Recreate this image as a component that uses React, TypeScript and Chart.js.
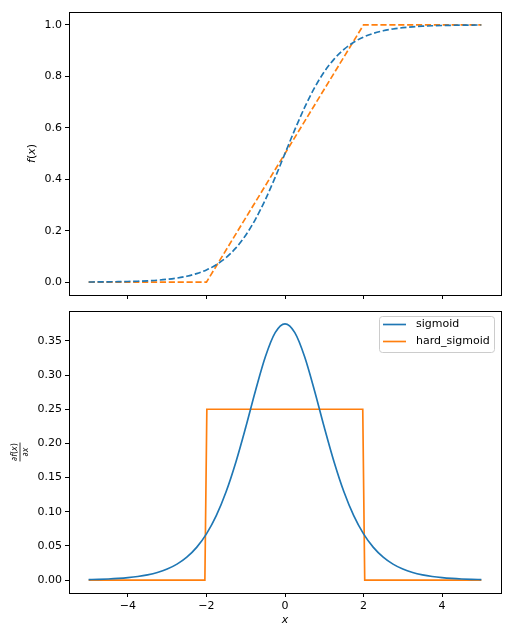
import React, { useEffect, useRef } from "react";
import { Chart, registerables } from "chart.js";

Chart.register(...registerables);

// Sample grid for the smooth curves
const xGrid = [
  -5, -4.75, -4.5, -4.25, -4, -3.75, -3.5, -3.25, -3, -2.75, -2.5, -2.25, -2, -1.75, -1.5, -1.25, -1, -0.75, -0.5, -0.25,
  0, 0.25, 0.5, 0.75, 1, 1.25, 1.5, 1.75, 2, 2.25, 2.5, 2.75, 3, 3.25, 3.5, 3.75, 4, 4.25, 4.5, 4.75, 5,
];

// f(x) for the smooth sigmoid
const sigmoidValues = [
  0.00055, 0.0008, 0.00117, 0.0017, 0.00247, 0.00359, 0.00522, 0.00757, 0.011, 0.0159, 0.023, 0.0331, 0.0474, 0.0675,
  0.0953, 0.133, 0.1824, 0.2451, 0.3208, 0.4073, 0.5, 0.5927, 0.6792, 0.7549, 0.8176, 0.867, 0.9047, 0.9325, 0.9526,
  0.9669, 0.977, 0.9841, 0.989, 0.99243, 0.99478, 0.99641, 0.99753, 0.9983, 0.99883, 0.9992, 0.99945,
];

// df/dx for the smooth sigmoid
const sigmoidGradValues = [
  0.00083, 0.0012, 0.00175, 0.00255, 0.0037, 0.00537, 0.00779, 0.01127, 0.0163, 0.0235, 0.0337, 0.048, 0.0678, 0.0945,
  0.1294, 0.173, 0.2237, 0.2775, 0.3268, 0.3621, 0.375, 0.3621, 0.3268, 0.2775, 0.2237, 0.173, 0.1294, 0.0945, 0.0678,
  0.048, 0.0337, 0.0235, 0.0163, 0.01127, 0.00779, 0.00537, 0.0037, 0.00255, 0.00175, 0.0012, 0.00083,
];

// Piecewise-linear hard sigmoid and its derivative
const hardX = [-5, -2, 2, 5];
const hardValues = [0, 0, 1, 1];
const hardGradX = [-5, -2.04, -1.99, 1.98, 2.03, 5];
const hardGradValues = [0, 0, 0.25, 0.25, 0, 0];

const seriesLabels = ["sigmoid", "hard_sigmoid"];
const seriesColors = ["#1f77b4", "#ff7f0e"];

const xTicks = [-4, -2, 0, 2, 4];
const topYTicks = [0, 0.2, 0.4, 0.6, 0.8, 1.0];
const bottomYTicks = [0, 0.05, 0.1, 0.15, 0.2, 0.25, 0.3, 0.35];

const FONT = "DejaVu Sans";
const LINE_W = 1.67;

const zip = (xs: number[], ys: number[]) => xs.map((x, i) => ({ x, y: ys[i] }));
const minus = (s: string) => s.replace("-", "\u2212");

function drawPieces(ctx: CanvasRenderingContext2D, pieces: [string, boolean][], size: number, cx: number, cy: number) {
  const fonts = pieces.map(([, it]) => `${it ? "italic " : ""}${size}px "${FONT}"`);
  let total = 0;
  const widths = pieces.map(([t], i) => {
    ctx.font = fonts[i];
    const w = ctx.measureText(t).width;
    total += w;
    return w;
  });
  let x = cx - total / 2;
  ctx.textAlign = "left";
  ctx.textBaseline = "middle";
  pieces.forEach(([t], i) => {
    ctx.font = fonts[i];
    ctx.fillText(t, x, cy);
    x += widths[i];
  });
  return total;
}

const framePlugin = {
  id: "frame",
  afterDatasetsDraw(chart: any) {
    const { ctx, chartArea } = chart;
    const l = Math.floor(chartArea.left) + 0.5;
    const t = Math.floor(chartArea.top) + 0.5;
    const w = Math.round(chartArea.right - chartArea.left);
    const h = Math.round(chartArea.bottom - chartArea.top);
    ctx.save();
    ctx.strokeStyle = "#000";
    ctx.lineWidth = 1;
    ctx.setLineDash([]);
    ctx.strokeRect(l, t, w, h);
    ctx.restore();
  },
};

function scaleOpts(ticks: number[], fmt: (v: number) => string, size: number, isX: boolean, showLabels: boolean) {
  return {
    type: "linear",
    afterBuildTicks: (axis: any) => {
      axis.ticks = ticks.map((v) => ({ value: v }));
    },
    afterFit: (axis: any) => {
      if (isX) axis.height = size;
      else axis.width = size;
      // keep the plot area exactly where the layout padding puts it
      axis.paddingTop = 0;
      axis.paddingBottom = 0;
      axis.paddingLeft = 0;
      axis.paddingRight = 0;
    },
    grid: { drawOnChartArea: false, drawTicks: true, tickLength: 4, color: "#000", lineWidth: 1 },
    border: { display: false },
    ticks: {
      display: showLabels,
      autoSkip: false,
      maxRotation: 0,
      padding: 3,
      color: "#000",
      font: { family: FONT, size: 11 },
      callback: (v: any) => minus(fmt(Number(v))),
    },
  };
}

export default function App() {
  const topRef = useRef<HTMLCanvasElement>(null);
  const bottomRef = useRef<HTMLCanvasElement>(null);

  useEffect(() => {
    const topLabelPlugin = {
      id: "topLabels",
      afterDraw(chart: any) {
        const { ctx, chartArea } = chart;
        ctx.save();
        ctx.fillStyle = "#000";
        ctx.translate(32, (chartArea.top + chartArea.bottom) / 2);
        ctx.rotate(-Math.PI / 2);
        drawPieces(ctx, [["f", true], ["(", false], ["x", true], [")", false]], 11, 0, 0);
        ctx.restore();
      },
    };

    const bottomLabelPlugin = {
      id: "bottomLabels",
      afterDraw(chart: any) {
        const { ctx, chartArea } = chart;
        ctx.save();
        ctx.fillStyle = "#000";
        // x axis title
        drawPieces(ctx, [["x", true]], 11, (chartArea.left + chartArea.right) / 2, 320);
        // y axis title: partial f(x) over partial x
        ctx.save();
        ctx.translate(20, (chartArea.top + chartArea.bottom) / 2);
        ctx.rotate(-Math.PI / 2);
        const numW = drawPieces(ctx, [["\u2202", false], ["f", true], ["(", false], ["x", true], [")", false]], 8, 0, -5);
        drawPieces(ctx, [["\u2202", false], ["x", true]], 8, 0, 5.5);
        ctx.strokeStyle = "#000";
        ctx.lineWidth = 0.8;
        ctx.beginPath();
        ctx.moveTo(-numW / 2 - 0.5, 0);
        ctx.lineTo(numW / 2 + 0.5, 0);
        ctx.stroke();
        ctx.restore();

        // legend box in the upper right
        const bx = 379.5, by = 16.5, bw = 115, bh = 36, r = 3;
        ctx.beginPath();
        ctx.moveTo(bx + r, by);
        ctx.lineTo(bx + bw - r, by);
        ctx.arcTo(bx + bw, by, bx + bw, by + r, r);
        ctx.lineTo(bx + bw, by + bh - r);
        ctx.arcTo(bx + bw, by + bh, bx + bw - r, by + bh, r);
        ctx.lineTo(bx + r, by + bh);
        ctx.arcTo(bx, by + bh, bx, by + bh - r, r);
        ctx.lineTo(bx, by + r);
        ctx.arcTo(bx, by, bx + r, by, r);
        ctx.closePath();
        ctx.fillStyle = "rgba(255,255,255,0.8)";
        ctx.fill();
        ctx.strokeStyle = "#cccccc";
        ctx.lineWidth = 1;
        ctx.stroke();
        const rows = [24.5, 41.5];
        chart.data.datasets.forEach((ds: any, i: number) => {
          ctx.strokeStyle = ds.borderColor;
          ctx.lineWidth = LINE_W;
          ctx.beginPath();
          ctx.moveTo(383, rows[i]);
          ctx.lineTo(406, rows[i]);
          ctx.stroke();
          ctx.fillStyle = "#000";
          ctx.font = `11px "${FONT}"`;
          ctx.textAlign = "left";
          ctx.textBaseline = "middle";
          ctx.fillText(ds.label, 416, rows[i]);
        });
        ctx.restore();
      },
    };

    const common = {
      responsive: false,
      animation: false as const,
      devicePixelRatio: 1,
      plugins: { legend: { display: false }, tooltip: { enabled: false } },
      elements: { point: { radius: 0 } },
    };

    const topChart = new Chart(topRef.current!, {
      type: "line",
      data: {
        datasets: [
          {
            label: seriesLabels[0],
            data: zip(xGrid, sigmoidValues),
            borderColor: seriesColors[0],
            borderWidth: LINE_W,
            borderDash: [6.2, 2.7],
            cubicInterpolationMode: "monotone",
            fill: false,
          },
          {
            label: seriesLabels[1],
            data: zip(hardX, hardValues),
            borderColor: seriesColors[1],
            borderWidth: LINE_W,
            borderDash: [6.2, 2.7],
            tension: 0,
            fill: false,
          },
        ],
      },
      options: {
        ...common,
        layout: { padding: { top: 12, right: 11, bottom: 0, left: 0 } },
        scales: {
          x: { ...scaleOpts(xTicks, (v) => String(v), 5, true, false), min: -5.5, max: 5.5 },
          y: { ...scaleOpts(topYTicks, (v) => v.toFixed(1), 69, false, true), min: -0.05, max: 1.05 },
        },
      } as any,
      plugins: [framePlugin, topLabelPlugin],
    });

    const bottomChart = new Chart(bottomRef.current!, {
      type: "line",
      data: {
        datasets: [
          {
            label: seriesLabels[0],
            data: zip(xGrid, sigmoidGradValues),
            borderColor: seriesColors[0],
            borderWidth: LINE_W,
            cubicInterpolationMode: "monotone",
            fill: false,
          },
          {
            label: seriesLabels[1],
            data: zip(hardGradX, hardGradValues),
            borderColor: seriesColors[1],
            borderWidth: LINE_W,
            tension: 0,
            fill: false,
          },
        ],
      },
      options: {
        ...common,
        layout: { padding: { top: 11, right: 11, bottom: 0, left: 0 } },
        scales: {
          x: { ...scaleOpts(xTicks, (v) => String(v), 47, true, true), min: -5.5, max: 5.5 },
          y: { ...scaleOpts(bottomYTicks, (v) => v.toFixed(2), 69, false, true), min: -0.01875, max: 0.39375 },
        },
      } as any,
      plugins: [framePlugin, bottomLabelPlugin],
    });

    return () => {
      topChart.destroy();
      bottomChart.destroy();
    };
  }, []);

  return (
    <div style={{ position: "fixed", left: 0, top: 0, width: 512, height: 640, background: "#fff" }}>
      <canvas ref={topRef} width={512} height={300} style={{ position: "absolute", left: 0, top: 0, width: 512, height: 300 }} />
      <canvas ref={bottomRef} width={512} height={340} style={{ position: "absolute", left: 0, top: 300, width: 512, height: 340 }} />
    </div>
  );
}
